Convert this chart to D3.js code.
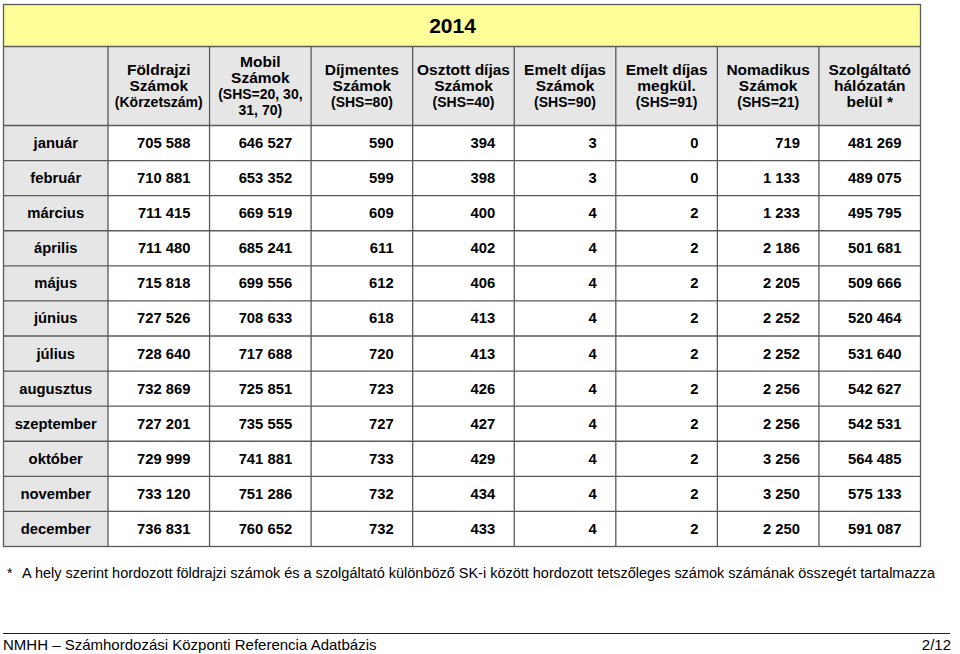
<!DOCTYPE html>
<html>
<head>
<meta charset="utf-8">
<script src="https://cdn.jsdelivr.net/npm/d3@7"></script>
<style>
  body { margin: 0; background: #fff; }
  svg text { font-family: "Liberation Sans", Arial, sans-serif; }
</style>
</head>
<body>
<svg id="vis"></svg>
<script>
// values
const year = "2014";
const months = ["január", "február", "március", "április", "május", "június",
    "július", "augusztus", "szeptember", "október", "november", "december"];

const headers = [
    ["Földrajzi", "Számok", "(Körzetszám)"],
    ["Mobil", "Számok", "(SHS=20, 30,", "31, 70)"],
    ["Díjmentes", "Számok", "(SHS=80)"],
    ["Osztott díjas", "Számok", "(SHS=40)"],
    ["Emelt díjas", "Számok", "(SHS=90)"],
    ["Emelt díjas", "megkül.", "(SHS=91)"],
    ["Nomadikus", "Számok", "(SHS=21)"],
    ["Szolgáltató", "hálózatán", "belül *"]
];

const foldrajzi = [705588, 710881, 711415, 711480, 715818, 727526, 728640, 732869, 727201, 729999, 733120, 736831];
const mobil = [646527, 653352, 669519, 685241, 699556, 708633, 717688, 725851, 735555, 741881, 751286, 760652];
const dijmentes = [590, 599, 609, 611, 612, 618, 720, 723, 727, 733, 732, 732];
const osztott = [394, 398, 400, 402, 406, 413, 413, 426, 427, 429, 434, 433];
const emelt = [3, 3, 4, 4, 4, 4, 4, 4, 4, 4, 4, 4];
const emeltMegkul = [0, 0, 2, 2, 2, 2, 2, 2, 2, 2, 2, 2];
const nomadikus = [719, 1133, 1233, 2186, 2205, 2252, 2252, 2256, 2256, 3256, 3250, 2250];
const halozaton = [481269, 489075, 495795, 501681, 509666, 520464, 531640, 542627, 542531, 564485, 575133, 591087];

const series = [foldrajzi, mobil, dijmentes, osztott, emelt, emeltMegkul, nomadikus, halozaton];

const footnote = "A hely szerint hordozott földrajzi számok és a szolgáltató különböző SK-i között hordozott tetszőleges számok számának összegét tartalmazza";
const footerLeft = "NMHH – Számhordozási Központi Referencia Adatbázis";
const footerRight = "2/12";

const width = 960, height = 654;
const table = {left: 3.5, right: 920.5, top: 4.5, yearBottom: 46.5, headBottom: 125.5, bottom: 546.5};
const firstColRight = 108;

const svg = d3.select("#vis").attr("width", width).attr("height", height);

const fmt = d3.formatLocale({decimal: ",", thousands: " ", grouping: [3], currency: ["", ""]}).format(",d");

const xScale = d3.scaleBand()
    .domain(d3.range(series.length))
    .range([firstColRight, table.right]);

const yScale = d3.scaleBand()
    .domain(months)
    .range([table.headBottom, table.bottom]);

const lineColor = "#5a5a5a";

// backgrounds
svg.append("rect")
    .attr("x", table.left).attr("y", table.top)
    .attr("width", table.right - table.left).attr("height", table.yearBottom - table.top)
    .attr("fill", "#ffff99");
svg.append("rect")
    .attr("x", table.left).attr("y", table.yearBottom)
    .attr("width", table.right - table.left).attr("height", table.headBottom - table.yearBottom)
    .attr("fill", "#e6e6e6");
svg.append("rect")
    .attr("x", table.left).attr("y", table.headBottom)
    .attr("width", firstColRight - table.left).attr("height", table.bottom - table.headBottom)
    .attr("fill", "#e6e6e6");

// year title (sits a bit left of the table centre in the picture)
svg.append("text")
    .attr("x", 452.5)
    .attr("y", 33)
    .attr("text-anchor", "middle")
    .attr("font-size", 21).attr("font-weight", "bold")
    .text(year);

// header cells
const head = svg.append("g").selectAll("g")
    .data(headers)
    .join("g")
    .attr("transform", (d, i) => `translate(${xScale(i) + xScale.bandwidth() / 2},0)`);

head.each(function(lines) {
    const n = lines.length;
    const mid = (table.yearBottom + table.headBottom) / 2 + 5;
    d3.select(this).selectAll("text")
        .data(lines)
        .join("text")
        .attr("text-anchor", "middle")
        .attr("y", (d, j) => mid + (j - (n - 1) / 2) * 16)
        .attr("font-size", d => d.startsWith("(") || d.startsWith("31") ? 14 : 15.5)
        .attr("font-weight", "bold")
        .text(d => d);
});

// month labels
svg.append("g").selectAll("text")
    .data(months)
    .join("text")
    .attr("x", (table.left + firstColRight) / 2)
    .attr("y", d => yScale(d) + yScale.bandwidth() / 2 + 5)
    .attr("text-anchor", "middle")
    .attr("font-size", 14.8).attr("font-weight", "bold")
    .text(d => d);

// values
svg.append("g").selectAll("g")
    .data(series)
    .join("g")
    .selectAll("text")
    .data((vals, i) => vals.map((v, j) => ({col: i, month: months[j], v: v})))
    .join("text")
    .attr("x", d => xScale(d.col) + xScale.bandwidth() - 19)
    .attr("y", d => yScale(d.month) + yScale.bandwidth() / 2 + 5)
    .attr("text-anchor", "end")
    .attr("font-size", 14.8).attr("font-weight", "bold")
    .text(d => fmt(d.v));

// grid lines
const grid = svg.append("g").attr("stroke", lineColor).attr("stroke-width", 1.3).attr("fill", "none");
grid.append("rect")
    .attr("x", table.left).attr("y", table.top)
    .attr("width", table.right - table.left).attr("height", table.bottom - table.top);
grid.append("line")
    .attr("x1", table.left).attr("x2", table.right)
    .attr("y1", table.yearBottom).attr("y2", table.yearBottom);
grid.selectAll("line.h")
    .data(months)
    .join("line").attr("class", "h")
    .attr("x1", table.left).attr("x2", table.right)
    .attr("y1", d => yScale(d)).attr("y2", d => yScale(d));
grid.selectAll("line.v")
    .data(d3.range(series.length))
    .join("line").attr("class", "v")
    .attr("x1", d => xScale(d)).attr("x2", d => xScale(d))
    .attr("y1", table.yearBottom).attr("y2", table.bottom);

// footnote
svg.append("text")
    .attr("x", 7).attr("y", 578)
    .attr("font-size", 14)
    .text("*");
svg.append("text")
    .attr("x", 22).attr("y", 578)
    .attr("font-size", 14)
    .attr("textLength", 913).attr("lengthAdjust", "spacingAndGlyphs")
    .text(footnote);

// page footer
svg.append("line")
    .attr("x1", 3).attr("x2", 950)
    .attr("y1", 633.5).attr("y2", 633.5)
    .attr("stroke", "#222").attr("stroke-width", 1);
svg.append("text")
    .attr("x", 3).attr("y", 650)
    .attr("font-size", 15)
    .text(footerLeft);
svg.append("text")
    .attr("x", 951).attr("y", 650)
    .attr("text-anchor", "end")
    .attr("font-size", 15)
    .text(footerRight);
</script>
</body>
</html>
